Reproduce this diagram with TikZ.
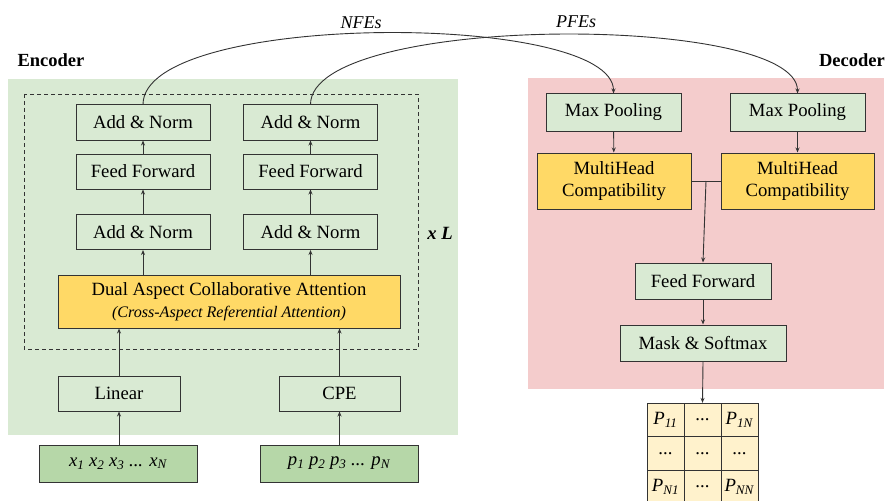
\documentclass[tikz,border=0pt]{standalone}
\usepackage{fontspec}
\setmainfont{Liberation Serif}
\usetikzlibrary{arrows.meta,positioning,calc}
\definecolor{encbg}{HTML}{D9EAD3}
\definecolor{decbg}{HTML}{F4CCCC}
\definecolor{inpbg}{HTML}{B6D7A8}
\definecolor{attbg}{HTML}{FFD966}
\definecolor{cellbg}{HTML}{FFF2CC}
\definecolor{edge}{HTML}{333333}
\tikzset{every picture/.style={font issue=\fontsize{18.7}{22}},
         font issue/.style={execute at begin picture={#1\selectfont}}
        }
\newcommand{\psub}[1]{\textit{P}\textsubscript{\textit{#1}}}
\newcommand{\celldots}{...}

\begin{document}
\begin{tikzpicture}[x=1pt, y=-1pt,
  blk/.style={draw=edge, line width=1pt, fill=encbg, inner sep=0pt, minimum height=35pt},
  att/.style={blk, fill=attbg, align=center},
  inp/.style={blk, fill=inpbg, minimum height=37pt, minimum width=158pt},
  cell/.style={draw=edge, line width=0.8pt, fill=cellbg, inner sep=0pt, minimum width=37pt, minimum height=33.5pt},
  arr/.style={draw=edge, line width=0.9pt, -{Stealth[length=5pt,width=4pt]}}]
\useasboundingbox (0,0) rectangle (885,500);

%encoder
\fill[encbg] (8,79) rectangle (458,435);
\node[font=\fontsize{18.5}{21}\selectfont\bfseries] (enc) at (51,60) {Encoder};
\draw[edge, line width=0.9pt, dash pattern=on 4pt off 3pt] (24,94) rectangle (418,349);
\node[font=\fontsize{18.7}{21}\selectfont\bfseries\itshape] (xl) at (440,233) {x L};

\node[blk, minimum width=134pt] (an1a) at (143,122.5) {Add \& Norm};
\node[blk, minimum width=134pt] (an1b) at (310.5,122.5) {Add \& Norm};
\node[blk, minimum width=134pt] (ffa) at (143,171.5) {Feed Forward};
\node[blk, minimum width=134pt] (ffb) at (310.5,171.5) {Feed Forward};
\node[blk, minimum width=134pt] (an2a) at (143,232) {Add \& Norm};
\node[blk, minimum width=134pt] (an2b) at (310.5,232) {Add \& Norm};
\node[att, minimum width=342pt, minimum height=53pt] (dual) at (229,301.5)
  {Dual Aspect Collaborative Attention\\{\fontsize{16.1}{19}\selectfont\itshape (Cross-Aspect Referential Attention)}};
\node[blk, minimum width=122pt] (lin) at (119,393.5) {Linear};
\node[blk, minimum width=121pt] (cpe) at (339.5,393.5) {CPE};
\node[inp] (xin) at (118,463.5) {\itshape x\textsubscript{1} x\textsubscript{2} x\textsubscript{3} ... x\textsubscript{N}};
\node[inp] (pin) at (339,463.5) {\itshape p\textsubscript{1} p\textsubscript{2} p\textsubscript{3} ... p\textsubscript{N}};

\draw[arr] (xin.north -| lin) -- (lin.south);
\draw[arr] (pin.north -| cpe) -- (cpe.south);
\draw[arr] (lin.north) -- (lin.north |- dual.south);
\draw[arr] (cpe.north) -- (cpe.north |- dual.south);
\draw[arr] (an2a.south |- dual.north) -- (an2a.south);
\draw[arr] (an2b.south |- dual.north) -- (an2b.south);
\draw[arr] (an2a) -- (ffa);
\draw[arr] (an2b) -- (ffb);
\draw[arr] (ffa) -- (an1a);
\draw[arr] (ffb) -- (an1b);

%decoder
\fill[decbg] (528,78) rectangle (884,389);
\node[font=\fontsize{18.5}{21}\selectfont\bfseries] (dec) at (852,60) {Decoder};

\node[blk, minimum width=135pt, minimum height=37pt] (mp1) at (613.5,112.5) {Max Pooling};
\node[blk, minimum width=135pt, minimum height=37pt] (mp2) at (797.5,112.5) {Max Pooling};
\node[att, minimum width=154pt, minimum height=56pt] (mh1) at (614,181) {MultiHead\\Compatibility};
\node[att, minimum width=153pt, minimum height=56pt] (mh2) at (797.5,181) {MultiHead\\Compatibility};
\node[blk, minimum width=136pt, minimum height=36pt] (ffd) at (703,281) {Feed Forward};
\node[blk, minimum width=166pt, minimum height=36pt] (msk) at (703,343) {Mask \& Softmax};

% output matrix
\foreach \txt [count=\i from 0] in {\psub{11},\celldots,\psub{1N},\celldots,\celldots,\celldots,\psub{N1},\celldots,\psub{NN}} {
  \pgfmathtruncatemacro{\col}{mod(\i,3)}
  \pgfmathtruncatemacro{\row}{div(\i,3)}
  \node[cell] (c\row\col) at (665.5+37*\col, 420+33.5*\row) {\txt};
}

\coordinate (join) at (706,181);
\draw[edge, line width=0.9pt] (mh1.east) -- (mh2.west);
\draw[arr] (join) -- (ffd.north);
\draw[arr] (mp1) -- (mh1);
\draw[arr] (mp2) -- (mh2.north -| mp2);
\draw[arr] (ffd) -- (msk);
\draw[arr] (msk.south) -- (c01.north);

%feature links
\draw[arr] (an1a.north) .. controls (143,11) and (613.5,11) .. (mp1.north);
\draw[arr] (an1b.north) .. controls (310.5,13) and (797.5,13) .. (mp2.north);
\node[font=\fontsize{18}{21}\selectfont\itshape] (nfe) at (361,23) {NFEs};
\node[font=\fontsize{18}{21}\selectfont\itshape] (pfe) at (576,22) {PFEs};

\end{tikzpicture}
\end{document}
